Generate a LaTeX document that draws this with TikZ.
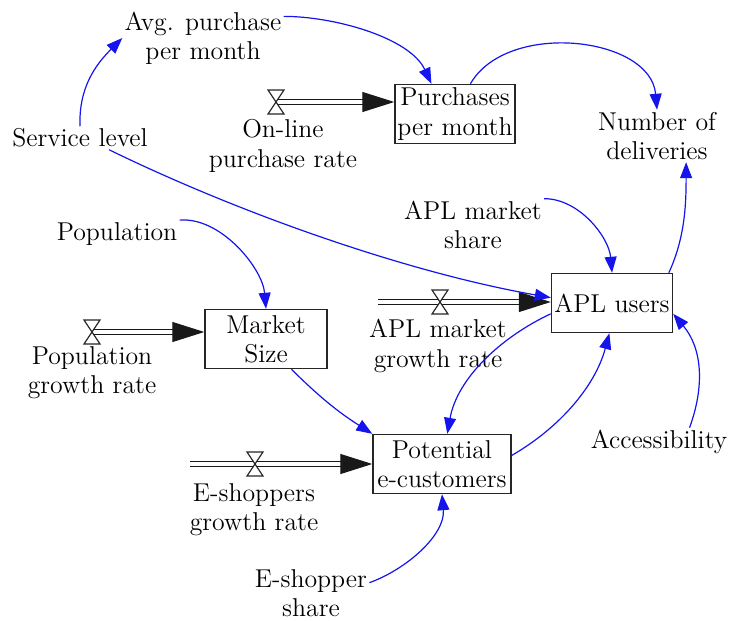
\documentclass[tikz,border=0pt]{standalone}
\usetikzlibrary{arrows.meta}

\begin{document}
\begin{tikzpicture}[x=0.5pt, y=-0.5pt,
  font=\fontsize{12.9}{14.6}\selectfont,
  var/.style={align=center, inner sep=1pt, text=black},
  stock/.style={draw=black!85, line width=0.7pt, align=center, inner sep=1pt,
    minimum height=29.5pt, text=black},
  link/.style={draw={rgb,255:red,20;green,20;blue,235}, line width=0.6pt,
    -{Triangle[length=8pt, width=6pt]}},
  pipe/.style={draw=black!90, line width=0.6pt, double distance=2pt,
    -{Triangle[length=16pt, width=10pt]}},
  valve/.pic={\draw[black!85, fill=white, line width=0.6pt]
    (-8,-12) -- (8,-12) -- (-8,12) -- (8,12) -- cycle;}]
\useasboundingbox (0,0) rectangle (729,621);
% Stocks
\node[stock, minimum width=60pt] (purch) at (455,114) {Purchases\\per month};
\node[stock, minimum width=60.5pt] (apl) at (612,303) {APL users};
\node[stock, minimum width=61pt] (market) at (266,339) {Market\\Size};
\node[stock, minimum width=69pt] (pot) at (442,464) {Potential\\e-customers};
% Auxiliaries
\node[var] (avg) at (203,38) {Avg. purchase\\per month};
\node[var] (svc) at (80,138) {Service level};
\node[var] (deliv) at (657,136) {Number of\\deliveries};
\node[var] (share) at (473,225) {APL market\\share};
\node[var] (pop) at (117,234) {Population};
\node[var] (acc) at (659,442) {Accessibility};
\node[var] (esh) at (311,593) {E-shopper\\share};
% Flows
\coordinate (v1) at (276,102);
\node[var] (r1) at (283,146) {On-line\\purchase rate};
\coordinate (v2) at (92,332);
\node[var] (r2) at (92,373) {Population\\growth rate};
\coordinate (a0) at (378,302);
\coordinate (v3) at (440,302);
\node[var] (r3) at (438,346) {APL market\\growth rate};
\coordinate (e0) at (190,464);
\coordinate (v4) at (255,464);
\node[var] (r4) at (254,510) {E-shoppers\\growth rate};
\draw[pipe] (v1) -- (v1 -| purch.west);
\draw[pipe] (v2) -- (v2 -| market.west);
\draw[pipe] (a0) -- (a0 -| apl.west);
\draw[pipe] (e0) -- (e0 -| pot.west);
\pic at (v1) {valve};
\pic at (v2) {valve};
\pic at (v3) {valve};
\pic at (v4) {valve};
% Links
\draw[link] (svc.north) to[out=92, in=225] (avg.west);
\draw[link] (avg.15) to[out=0, in=115, looseness=0.8] (purch.128);
\draw[link] (purch.63) to[out=60, in=95] (deliv.north);
\draw[link] (svc.-22) to[out=-26, in=170, looseness=0.8] (apl.175);
\draw[link] (apl.28) to[out=65, in=-90, looseness=0.9] (deliv.-42);
\draw[link] (share.north east) to[out=0, in=95, looseness=0.9] (apl.north);
\draw[link] (pop.north east) to[out=5, in=95, looseness=0.85] (market.north);
\draw[link] (market.-50) to[bend right=6] (pot.north west);
\draw[link] (apl.190) to[out=205, in=80, looseness=0.9] (pot.80);
\draw[link] (pot.7) to[out=30, in=-105, looseness=0.9] (apl.-95);
\draw[link] (acc.25) to[out=70, in=-50] (apl.-10);
\draw[link] (esh.10) to[out=20, in=-85, looseness=0.9] (pot.south);
\end{tikzpicture}
\end{document}
